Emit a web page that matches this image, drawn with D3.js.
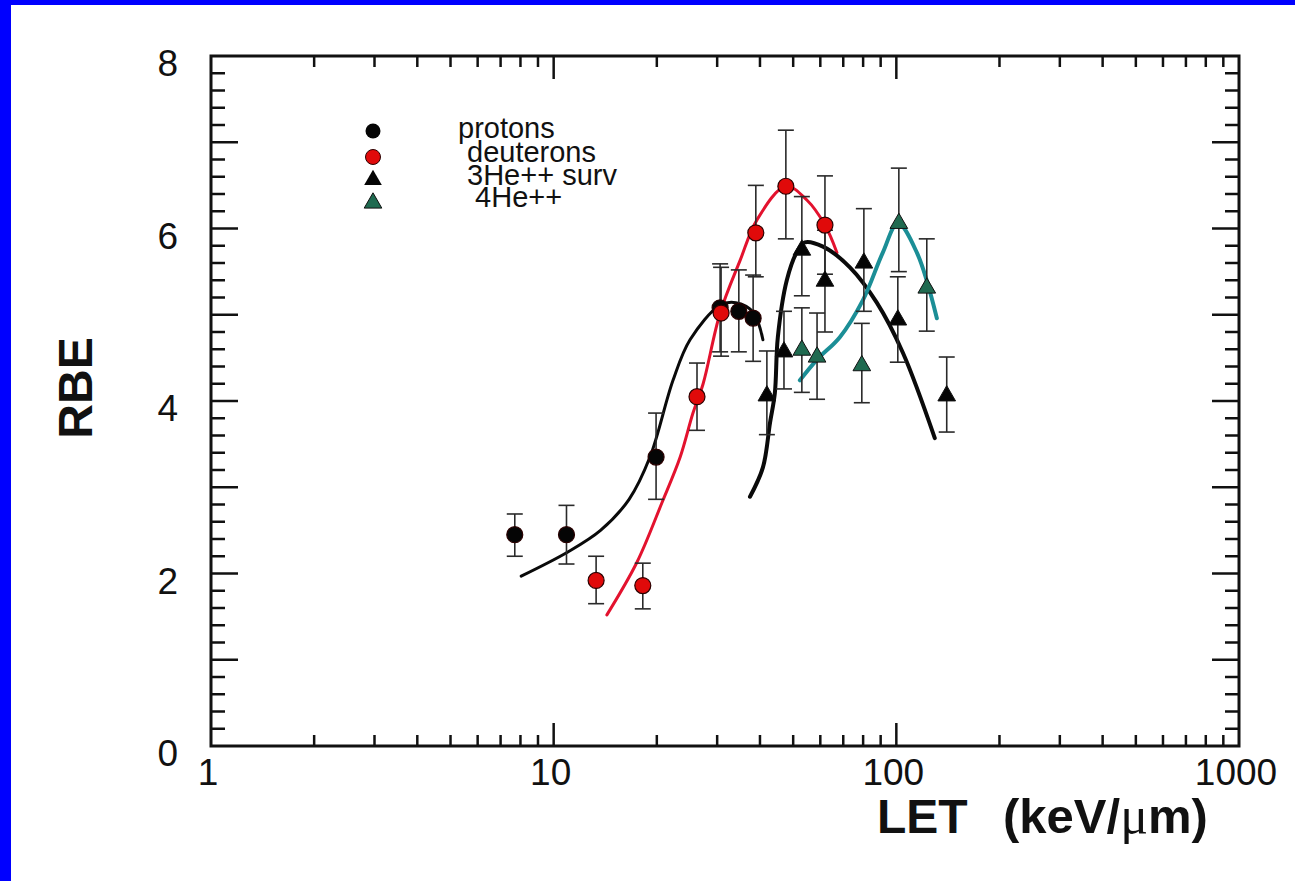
<!DOCTYPE html>
<html>
<head>
<meta charset="utf-8">
<script src="https://cdn.jsdelivr.net/npm/d3@7/dist/d3.min.js"></script>
<style>
  html, body { margin: 0; padding: 0; background: #0000ff; }
  svg { display: block; }
</style>
</head>
<body>
<script>
// RBE versus LET for light ions: measured points with error bars and fitted curves.

// Protons
const protonLET = [7.7, 10.9, 19.9, 30.6, 34.7, 38.2];
const protonRBE = [2.45, 2.45, 3.35, 5.08, 5.04, 4.96];
const protonLo  = [2.20, 2.11, 2.86, 4.57, 4.57, 4.46];
const protonHi  = [2.69, 2.79, 3.86, 5.59, 5.52, 5.46];

// Deuterons
const deuteronLET = [13.3, 18.2, 26.2, 30.8, 38.9, 47.6, 61.9];
const deuteronRBE = [1.92, 1.86, 4.05, 5.02, 5.95, 6.49, 6.04];
const deuteronLo  = [1.65, 1.59, 3.66, 4.52, 5.44, 5.88, 5.47];
const deuteronHi  = [2.20, 2.12, 4.44, 5.55, 6.50, 7.14, 6.61];

// 3He++ survival
const he3LET = [41.9, 47.0, 53.0, 61.9, 80.4, 101, 140.3];
const he3RBE = [4.06, 4.57, 5.75, 5.39, 5.60, 4.94, 4.06];
const he3Lo  = [3.61, 4.14, 5.22, 4.80, 5.04, 4.45, 3.64];
const he3Hi  = [4.58, 5.04, 6.37, 5.98, 6.23, 5.44, 4.51];

// 4He++
const he4LET = [53.0, 58.7, 79.3, 101.7, 122.7];
const he4RBE = [4.59, 4.51, 4.41, 6.06, 5.31];
const he4Lo  = [4.10, 4.02, 3.98, 5.50, 4.81];
const he4Hi  = [5.08, 5.02, 4.90, 6.70, 5.88];

// Fitted curves
const protonFitLET = [8.04, 11.0, 13.7, 16.6, 19.1, 22.3, 25.0, 30.6, 34.0, 38.2, 40.8];
const protonFitRBE = [1.97, 2.25, 2.50, 2.86, 3.35, 4.24, 4.71, 5.11, 5.14, 5.03, 4.71];
const deuteronFitLET = [14.3, 17.5, 20.7, 23.4, 25.5, 27.3, 30.6, 35.0, 39.2, 47.6, 54.8, 61.9, 67.1];
const deuteronFitRBE = [1.52, 2.13, 2.82, 3.35, 3.86, 4.20, 5.02, 5.63, 6.10, 6.49, 6.33, 6.04, 5.72];
const he3FitLET = [37.4, 40.8, 42.8, 44.2, 45.1, 47.9, 51.3, 54.1, 61.1, 73.2, 87.7, 104.5, 129.5];
const he3FitRBE = [2.89, 3.23, 3.75, 4.09, 4.74, 5.40, 5.73, 5.84, 5.79, 5.55, 5.14, 4.56, 3.57];
const he4FitLET = [52.3, 58.7, 68.4, 79.9, 91.3, 101, 114.8, 131.3];
const he4FitRBE = [4.24, 4.48, 4.74, 5.17, 5.72, 6.06, 5.72, 4.96];

// Axis ticks
const xTickLabels = [1, 10, 100, 1000];
const yTickLabels = [0, 2, 4, 6, 8];

// Legend
const legendLabels = ["protons", "deuterons", "3He++ surv", " 4He++"];

const W = 1295, H = 881;
const FONT = "'Liberation Sans', Arial, Helvetica, sans-serif";

const svg = d3.select("body").append("svg")
  .attr("width", W).attr("height", H);

// White page inside the blue frame
svg.append("rect").attr("x", 11).attr("y", 5)
  .attr("width", W - 11).attr("height", H - 5).attr("fill", "#ffffff");

const plotL = 211, plotR = 1239, plotT = 56, plotB = 746;
const x = d3.scaleLog().domain([1, 1000]).range([plotL, plotR]);
const y = d3.scaleLinear().domain([0, 8]).range([plotB, plotT]);

const ink = "#111";

// Frame
svg.append("rect")
  .attr("x", plotL).attr("y", plotT)
  .attr("width", plotR - plotL).attr("height", plotB - plotT)
  .attr("fill", "none").attr("stroke", ink).attr("stroke-width", 3);

// Tick positions
const xMinor = [];
for (let d = 1; d < 1000; d *= 10) for (let k = 2; k <= 9; k++) xMinor.push(d * k);
const xMajor = [10, 100];
const yMinor = d3.range(0, 8.001, 0.2).filter(v => Math.abs(v - Math.round(v)) > 1e-6);
const yMajor = d3.range(1, 8);

const ticks = svg.append("g").attr("stroke", ink).attr("stroke-width", 2.5);
// bottom and top
xMinor.forEach(v => {
  ticks.append("line").attr("x1", x(v)).attr("x2", x(v)).attr("y1", plotB).attr("y2", plotB - 11);
  ticks.append("line").attr("x1", x(v)).attr("x2", x(v)).attr("y1", plotT).attr("y2", plotT + 11);
});
xMajor.forEach(v => {
  ticks.append("line").attr("x1", x(v)).attr("x2", x(v)).attr("y1", plotB).attr("y2", plotB - 23);
  ticks.append("line").attr("x1", x(v)).attr("x2", x(v)).attr("y1", plotT).attr("y2", plotT + 23);
});
// left and right
yMinor.forEach(v => {
  ticks.append("line").attr("x1", plotL).attr("x2", plotL + 14).attr("y1", y(v)).attr("y2", y(v));
  ticks.append("line").attr("x1", plotR).attr("x2", plotR - 14).attr("y1", y(v)).attr("y2", y(v));
});
yMajor.forEach(v => {
  ticks.append("line").attr("x1", plotL).attr("x2", plotL + 27).attr("y1", y(v)).attr("y2", y(v));
  ticks.append("line").attr("x1", plotR).attr("x2", plotR - 27).attr("y1", y(v)).attr("y2", y(v));
});

// Tick labels
svg.append("g").selectAll("text").data(yTickLabels).join("text")
  .attr("x", 178).attr("y", d => y(d) + 20)
  .attr("text-anchor", "end")
  .attr("font-family", FONT).attr("font-size", 37).attr("fill", ink)
  .text(d => d);

svg.append("g").selectAll("text").data(xTickLabels).join("text")
  .attr("x", d => x(d) - 3).attr("y", 785)
  .attr("text-anchor", "middle")
  .attr("font-family", FONT).attr("font-size", 37).attr("fill", ink)
  .text(d => d);

// Axis titles
svg.append("text")
  .attr("transform", "translate(92,388) rotate(-90)")
  .attr("text-anchor", "middle")
  .attr("font-family", FONT).attr("font-weight", "bold").attr("font-size", 48)
  .attr("fill", ink).text("RBE");

svg.append("text").attr("x", 877).attr("y", 833)
  .attr("font-family", FONT).attr("font-weight", "bold").attr("font-size", 48)
  .attr("fill", ink).text("LET");
const unit = svg.append("text").attr("x", 1003).attr("y", 833)
  .attr("font-family", FONT).attr("font-weight", "bold").attr("font-size", 49)
  .attr("fill", ink);
unit.append("tspan").text("(keV/");
unit.append("tspan").attr("font-family", "'Liberation Serif', 'DejaVu Serif', serif")
  .attr("font-weight", "normal").attr("font-size", 52).text("μ");
unit.append("tspan").text("m)");

// Fitted curves
const line = d3.line().x(d => x(d[0])).y(d => y(d[1])).curve(d3.curveCatmullRom.alpha(0.5));
const zip = (a, b) => a.map((v, i) => [v, b[i]]);

const curves = svg.append("g").attr("fill", "none").attr("stroke-linecap", "round");
curves.append("path").attr("d", line(zip(protonFitLET, protonFitRBE)))
  .attr("stroke", "#0a0a0a").attr("stroke-width", 3);
curves.append("path").attr("d", line(zip(deuteronFitLET, deuteronFitRBE)))
  .attr("stroke", "#e3122e").attr("stroke-width", 3);
curves.append("path").attr("d", line(zip(he3FitLET, he3FitRBE)))
  .attr("stroke", "#0a0a0a").attr("stroke-width", 4);
curves.append("path").attr("d", line(zip(he4FitLET, he4FitRBE)))
  .attr("stroke", "#1b8e96").attr("stroke-width", 4);

// Error bars
function errorBars(lets, lo, hi) {
  const g = svg.append("g").attr("stroke", "#2a2a2a").attr("stroke-width", 1.6);
  lets.forEach((v, i) => {
    const cx = x(v);
    g.append("line").attr("x1", cx).attr("x2", cx).attr("y1", y(lo[i])).attr("y2", y(hi[i]));
    g.append("line").attr("x1", cx - 8).attr("x2", cx + 8).attr("y1", y(lo[i])).attr("y2", y(lo[i]));
    g.append("line").attr("x1", cx - 8).attr("x2", cx + 8).attr("y1", y(hi[i])).attr("y2", y(hi[i]));
  });
}
errorBars(protonLET, protonLo, protonHi);
errorBars(deuteronLET, deuteronLo, deuteronHi);
errorBars(he3LET, he3Lo, he3Hi);
errorBars(he4LET, he4Lo, he4Hi);

// Markers
const triangle = d3.symbol().type(d3.symbolTriangle).size(135);
function circles(lets, vals, fill) {
  svg.append("g").selectAll("circle").data(zip(lets, vals)).join("circle")
    .attr("cx", d => x(d[0])).attr("cy", d => y(d[1])).attr("r", 8)
    .attr("fill", fill).attr("stroke", "#2a0000").attr("stroke-width", 1.2);
}
function triangles(lets, vals, fill) {
  svg.append("g").selectAll("path").data(zip(lets, vals)).join("path")
    .attr("d", triangle)
    .attr("transform", d => `translate(${x(d[0])},${y(d[1])})`)
    .attr("fill", fill).attr("stroke", "#111").attr("stroke-width", 1);
}
circles(protonLET, protonRBE, "#050505");
circles(deuteronLET, deuteronRBE, "#e00a0a");
triangles(he3LET, he3RBE, "#050505");
triangles(he4LET, he4RBE, "#1f6a50");

// Legend
const legendY = [131, 157, 180, 203];
const legendG = svg.append("g");
legendG.append("circle").attr("cx", 373).attr("cy", legendY[0]).attr("r", 7.5)
  .attr("fill", "#050505");
legendG.append("circle").attr("cx", 373).attr("cy", legendY[1]).attr("r", 7.5)
  .attr("fill", "#e00a0a").attr("stroke", "#2a0000").attr("stroke-width", 1);
legendG.append("path").attr("d", triangle).attr("transform", `translate(373,${legendY[2]})`)
  .attr("fill", "#050505");
legendG.append("path").attr("d", triangle).attr("transform", `translate(373,${legendY[3]})`)
  .attr("fill", "#1f6a50").attr("stroke", "#111").attr("stroke-width", 1);

const legendX = [458, 467, 467, 467];
const legendBase = [138, 162, 185, 207];
legendG.selectAll("text").data(legendLabels).join("text")
  .attr("x", (d, i) => legendX[i]).attr("y", (d, i) => legendBase[i])
  .style("white-space", "pre")
  .attr("font-family", FONT).attr("font-size", 29)
  .attr("fill", ink)
  .text(d => d);
</script>
</body>
</html>
